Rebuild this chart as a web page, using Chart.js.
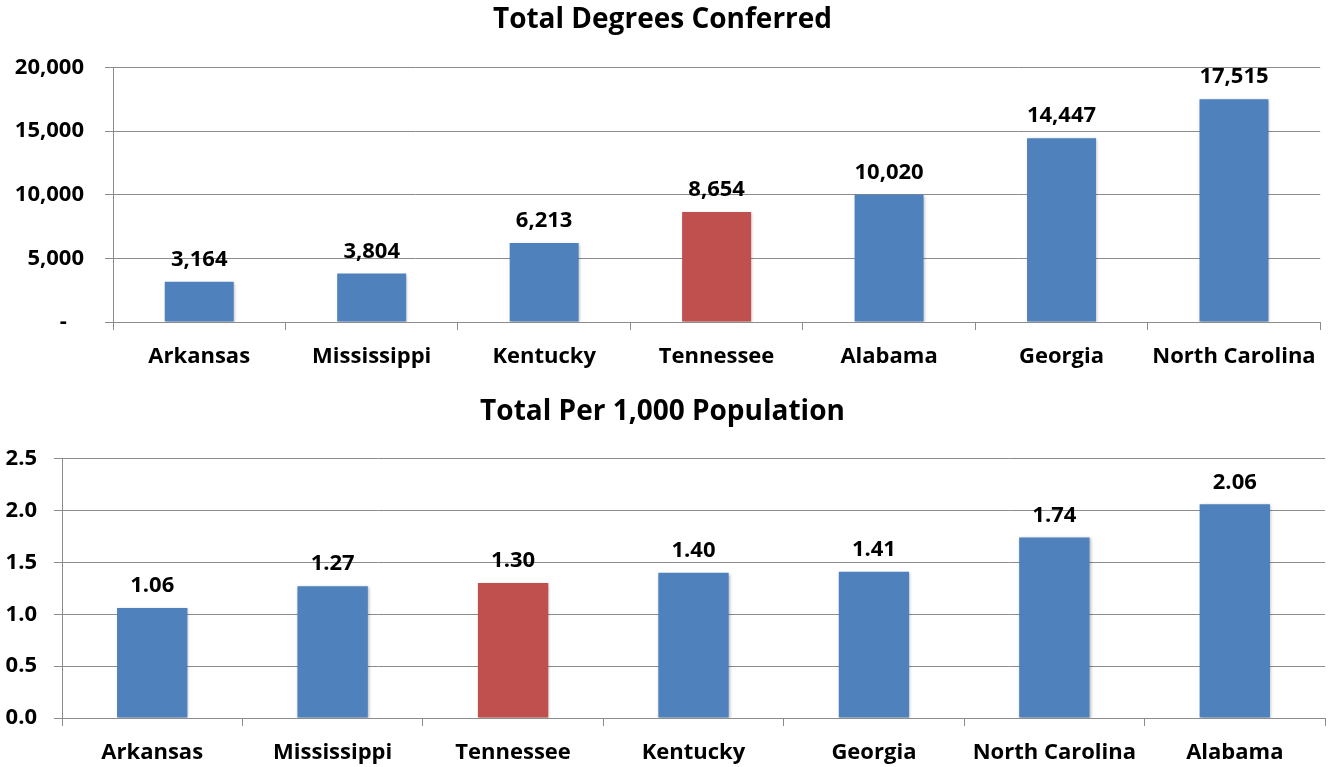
<!DOCTYPE html>
<html lang="en">
  <head>
    <meta charset="UTF-8" />
    <title>Degrees Conferred</title>
    <script src="https://cdn.jsdelivr.net/npm/chart.js"></script>
    <style>
      body {
        margin: 0;
        background: #ffffff;
      }
      #wrap {
        position: relative;
        width: 1330px;
        height: 767px;
      }
      #totalChart {
        position: absolute;
        left: 0;
        top: 0;
      }
      #perCapitaChart {
        position: absolute;
        left: 0;
        top: 385px;
      }
    </style>
  </head>
  <body>
    <div id="wrap">
      <canvas id="totalChart" width="1330" height="385"></canvas>
      <canvas id="perCapitaChart" width="1330" height="382"></canvas>
    </div>

    <script>
      // totals by state
      const totalStates = ["Arkansas", "Mississippi", "Kentucky", "Tennessee", "Alabama", "Georgia", "North Carolina"];
      const totalValues = [3164, 3804, 6213, 8654, 10020, 14447, 17515];

      // per 1,000 population
      const rateStates = ["Arkansas", "Mississippi", "Tennessee", "Kentucky", "Georgia", "North Carolina", "Alabama"];
      const rateValues = [1.06, 1.27, 1.3, 1.4, 1.41, 1.74, 2.06];

      const highlight = "Tennessee";
      const BLUE = "#4F81BD";
      const RED = "#C0504D";
      const GRID = "#8c8c8c";
      const FONT = "'Open Sans', sans-serif";

      Chart.defaults.font.family = FONT;
      Chart.defaults.font.weight = "bold";
      Chart.defaults.color = "#000";

      // numbers printed above each bar
      function valueLabels(fmt) {
        return {
          id: "valueLabels",
          afterDatasetsDraw(chart) {
            const ctx = chart.ctx;
            const meta = chart.getDatasetMeta(0);
            const data = chart.data.datasets[0].data;
            ctx.save();
            ctx.font = "bold 22px " + FONT;
            ctx.fillStyle = "#000";
            ctx.textAlign = "center";
            ctx.textBaseline = "bottom";
            meta.data.forEach((bar, i) => {
              ctx.fillText(fmt(data[i]), bar.x, bar.y - 11);
            });
            ctx.restore();
          },
        };
      }

      // soft drop shadow under the bars
      const barShadow = {
        id: "barShadow",
        beforeDatasetsDraw(chart) {
          const ctx = chart.ctx;
          ctx.save();
          ctx.shadowColor = "rgba(0,0,0,0.28)";
          ctx.shadowBlur = 3;
          ctx.shadowOffsetX = 1;
          ctx.shadowOffsetY = 1;
        },
        afterDatasetsDraw(chart) {
          chart.ctx.restore();
        },
      };

      function buildChart(id, labels, values, opt) {
        return new Chart(document.getElementById(id), {
          type: "bar",
          data: {
            labels: labels,
            datasets: [
              {
                data: values,
                backgroundColor: labels.map((s) => (s === highlight ? RED : BLUE)),
                categoryPercentage: 1,
                barPercentage: opt.barPct,
              },
            ],
          },
          options: {
            responsive: false,
            animation: false,
            devicePixelRatio: 1,
            layout: { padding: { left: 0, right: 5, top: 0, bottom: 0 } },
            plugins: {
              legend: { display: false },
              tooltip: { enabled: false },
              title: {
                display: true,
                text: opt.title,
                font: { size: 28, weight: "bold", lineHeight: 1.2 },
                color: "#000",
                padding: { top: opt.titleTop, bottom: opt.titleBottom },
              },
            },
            scales: {
              x: {
                grid: {
                  drawOnChartArea: false,
                  drawTicks: true,
                  tickLength: 8,
                  color: GRID,
                  offset: true,
                },
                border: { color: GRID },
                ticks: { font: { size: 22, weight: "bold" }, padding: 14, color: "#000" },
                afterFit(scale) {
                  scale.height = opt.xHeight;
                },
              },
              y: {
                min: 0,
                max: opt.max,
                grid: { color: GRID, tickLength: 8 },
                border: { color: GRID },
                ticks: {
                  stepSize: opt.step,
                  font: { size: 22, weight: "bold" },
                  padding: opt.yPad,
                  color: "#000",
                  callback: opt.tick,
                },
                afterFit(scale) {
                  scale.width = opt.yWidth;
                },
              },
            },
          },
          plugins: [barShadow, valueLabels(opt.label)],
        });
      }

      buildChart("totalChart", totalStates, totalValues, {
        title: "Total Degrees Conferred",
        titleTop: 3,
        titleBottom: 31,
        max: 20000,
        step: 5000,
        barPct: 0.4,
        yWidth: 113,
        yPad: 21,
        xHeight: 63,
        tick: (v) => (v === 0 ? "-   " : v.toLocaleString("en-US")),
        label: (v) => v.toLocaleString("en-US"),
      });

      buildChart("perCapitaChart", rateStates, rateValues, {
        title: "Total Per 1,000 Population",
        titleTop: 10,
        titleBottom: 30,
        max: 2.5,
        step: 0.5,
        barPct: 0.39,
        yWidth: 62,
        yPad: 17,
        xHeight: 49,
        tick: (v) => v.toFixed(1),
        label: (v) => v.toFixed(2),
      });
    </script>
  </body>
</html>
